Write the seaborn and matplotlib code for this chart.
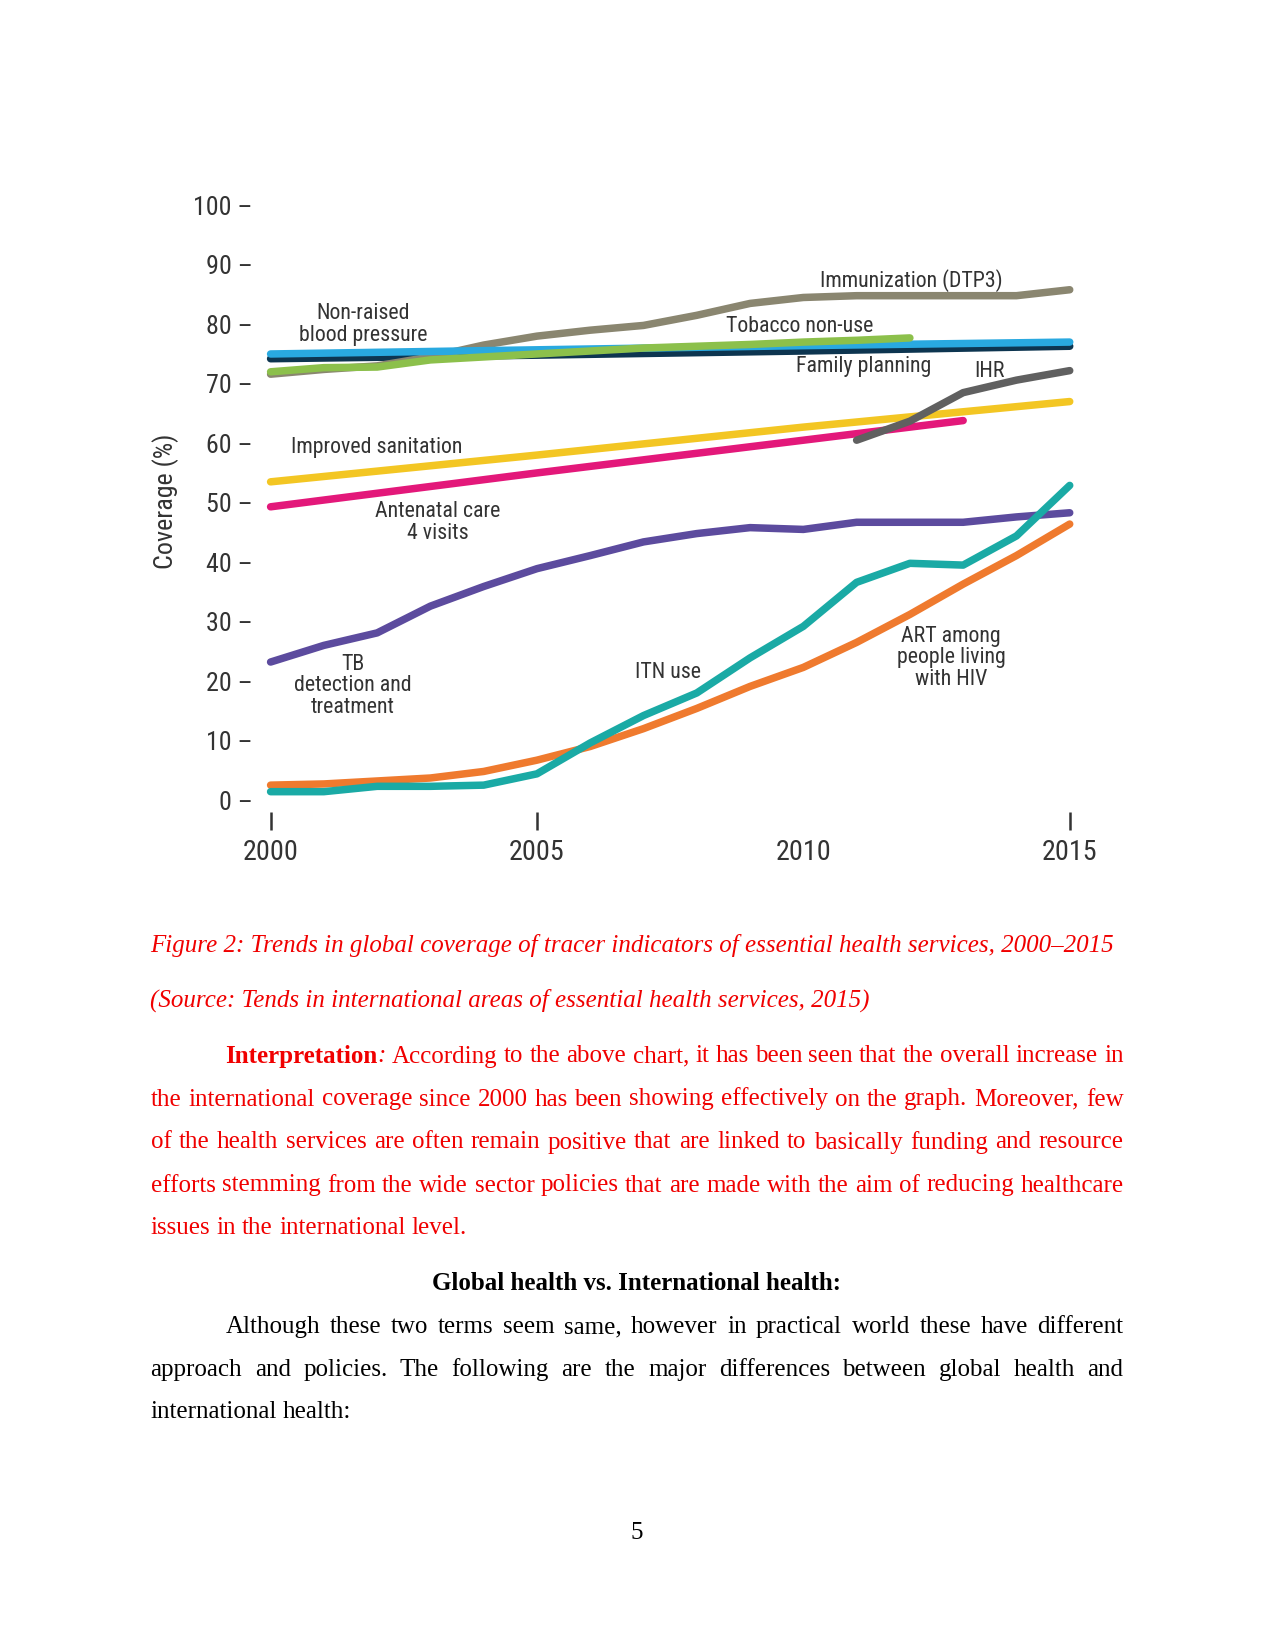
import matplotlib
matplotlib.use("Agg")
import matplotlib.pyplot as plt
import matplotlib.font_manager as fm
import seaborn as sns
import pandas as pd

W, H, DPI = 1275, 1651, 150

# ── data ────────────────────────────────────────────────────
YEARS = list(range(2000, 2016))
YEARS_4 = [2000, 2005, 2010, 2015]

immunization = [71.6, 72.4, 73, 74.5, 76.5, 78, 79, 79.8, 81.5, 83.5, 84.5, 84.8, 84.8, 84.8, 84.8, 85.8]
tobacco_years = list(range(2000, 2013))
tobacco = [72, 72.7, 72.8, 74, 74.5, 75, 75.5, 76, 76.3, 76.6, 77, 77.3, 77.7]
blood_pressure = [75, 75.7, 76.4, 77]
family_planning = [74.2, 74.8, 75.5, 76.3]
ihr_years = [2011, 2012, 2013, 2014, 2015]
ihr = [60.5, 63.7, 68.5, 70.6, 72.2]
sanitation = [53.5, 58, 62.7, 67]
antenatal_years = [2000, 2005, 2010, 2013]
antenatal = [49.3, 55, 60.5, 63.8]
tb = [23.2, 26, 28.1, 32.6, 35.9, 38.9, 41.1, 43.4, 44.8, 45.8, 45.5, 46.7, 46.7, 46.7, 47.6, 48.3]
itn = [1.4, 1.4, 2.3, 2.3, 2.5, 4.4, 9.6, 14.2, 18, 23.9, 29.2, 36.6, 39.8, 39.5, 44.4, 52.9]
art = [2.5, 2.7, 3.2, 3.7, 4.8, 6.7, 9.0, 12, 15.4, 19.1, 22.3, 26.5, 31.2, 36.3, 41.1, 46.4]

SERIES = [
    ("Family planning", YEARS_4, family_planning, "#0D3550"),
    ("Immunization (DTP3)", YEARS, immunization, "#8A8670"),
    ("Non-raised blood pressure", YEARS_4, blood_pressure, "#29A9E0"),
    ("Tobacco non-use", tobacco_years, tobacco, "#8CC04B"),
    ("Improved sanitation", YEARS_4, sanitation, "#F3C623"),
    ("Antenatal care", antenatal_years, antenatal, "#E3187A"),
    ("IHR", ihr_years, ihr, "#606060"),
    ("TB", YEARS, tb, "#5C4B9E"),
    ("ART", YEARS, art, "#EF7A2E"),
    ("ITN use", YEARS, itn, "#1AAAA5"),
]

Y_TICKS = [0, 10, 20, 30, 40, 50, 60, 70, 80, 90, 100]
X_TICKS = [2000, 2005, 2010, 2015]
X_MARKS = [2000, 2005, 2015]

rows = []
for name, xs, ys, _ in SERIES:
    for x, y in zip(xs, ys):
        rows.append({"year": x, "value": y, "series": name})
df = pd.DataFrame(rows)
palette = {name: c for name, _, _, c in SERIES}
order = [s[0] for s in SERIES]

sns.set_theme(style="white")


def pick_condensed():
    fl = fm.fontManager.ttflist
    names = {f.name for f in fl}
    for want in ["Liberation Sans Narrow", "Roboto Condensed", "Open Sans Condensed",
                 "DejaVu Sans Condensed"]:
        if want in names:
            return {"family": want}
    for f in fl:
        if "Narrow" in f.name or "Condensed" in f.name:
            return {"family": f.name}
    for fam in ["DejaVu Sans", "Roboto", "Open Sans", "Noto Sans"]:
        for f in fl:
            if f.name == fam and f.stretch in ("condensed", "semi-condensed", 300):
                return {"family": fam, "stretch": "condensed"}
    return {"family": "Roboto"}


COND = pick_condensed()
SERIF = "Liberation Serif"
plt.rcParams["font.family"] = [COND["family"], "DejaVu Sans"]
INK = "#333333"
RED = "#F00000"

fig = plt.figure(figsize=(W / DPI, H / DPI), dpi=DPI)
fig.patch.set_facecolor("white")


def px(x, y):
    return x / W, 1 - y / H


# axes placed so that 2000..2015 / 0..100 land where the reference has them
x0p, x1p = 270.6 - 0.5 * 53.3, 1069.7 + 0.5 * 53.3
y0p, y1p = 800 + 2 * 5.95, 205.3 - 2 * 5.95
ax = fig.add_axes([x0p / W, 1 - y0p / H, (x1p - x0p) / W, (y0p - y1p) / H])
ax.set_facecolor("white")

sns.lineplot(data=df, x="year", y="value", hue="series", hue_order=order,
             palette=palette, estimator=None, sort=False, linewidth=3.6,
             solid_capstyle="round", legend=False, ax=ax)

ax.set_xlim(1999.5, 2015.5)
ax.set_ylim(-2, 102)
for s in ax.spines.values():
    s.set_visible(False)
ax.set_xlabel("")
ax.set_ylabel("")

ax.set_yticks(Y_TICKS)
ax.set_yticklabels([f"{v} –" for v in Y_TICKS], fontsize=12.5, color=INK, **COND)
ax.tick_params(axis="y", length=0, pad=-4)

ax.xaxis.remove_overlapping_locs = False
ax.set_xticks(X_TICKS)
ax.set_xticklabels([str(v) for v in X_TICKS], fontsize=13.5, color=INK, **COND)
ax.set_xticks(X_MARKS, minor=True)
ax.tick_params(axis="x", which="major", length=0, pad=13, bottom=True)
ax.tick_params(axis="x", which="minor", length=8.5, width=1.2, color=INK,
               direction="out", bottom=True, labelbottom=False)

# series labels
LABELS = [
    ("Non-raised\nblood pressure", 2001.73, 80.0),
    ("Immunization (DTP3)", 2012.03, 87.4),
    ("Tobacco non-use", 2009.93, 79.7),
    ("Family planning", 2011.13, 72.9),
    ("IHR", 2013.5, 72.1),
    ("Improved sanitation", 2002.0, 59.2),
    ("Antenatal care\n4 visits", 2003.14, 46.6),
    ("TB\ndetection and\ntreatment", 2001.54, 19.2),
    ("ITN use", 2007.46, 21.5),
    ("ART among\npeople living\nwith HIV", 2012.77, 23.9),
]
for txt, lx, ly in LABELS:
    ax.text(lx, ly, txt, ha="center", va="center", fontsize=10.5, color=INK,
            linespacing=1.05, **COND)

fig.text(*px(166, 501), "Coverage (%)", rotation=90, ha="center", va="center",
         fontsize=12.5, color=INK, **COND)

# ── document text below the figure ──────────────────────────
renderer = fig.canvas.get_renderer()
LEFT, RIGHT, INDENT = 150.5, 1123.5, 225.3
SIZE = 12


def width_of(txt, **st):
    t = fig.text(0, 0, txt, fontsize=SIZE, family=SERIF, **st)
    w = t.get_window_extent(renderer).width
    t.remove()
    return w


def draw_words(words, xa, xb, y, justify, color):
    placed = []
    widths = []
    for word in words:
        runs = []
        total = 0
        for txt, st in word:
            t = fig.text(0, 0, txt, fontsize=SIZE, family=SERIF, color=color,
                         va="baseline", ha="left", **st)
            w = t.get_window_extent(renderer).width
            runs.append((t, w))
            total += w
        placed.append(runs)
        widths.append(total)
    if justify and len(words) > 1:
        gap = (xb - xa - sum(widths)) / (len(words) - 1)
    else:
        gap = width_of("a a") - width_of("aa")
    x = xa
    for runs, w in zip(placed, widths):
        xx = x
        for t, rw in runs:
            t.set_position(px(xx, y))
            xx += rw
        x += w + gap


def plain(line):
    return [[(w, {})] for w in line.split(" ")]


fig.text(*px(LEFT, 951.5),
         "Figure 2: Trends in global coverage of tracer indicators of essential health services, 2000–2015",
         fontsize=SIZE, family=SERIF, style="italic", color=RED, va="baseline")
fig.text(*px(LEFT, 1006.5),
         "(Source: Tends in international areas of essential health services, 2015)",
         fontsize=SIZE, family=SERIF, style="italic", color=RED, va="baseline")

first = [[("Interpretation", {"weight": "bold"}), (":", {"style": "italic"})]] + \
    plain("According to the above chart, it has been seen that the overall increase in")
draw_words(first, INDENT, RIGHT, 1062.5, True, RED)
para1 = [
    "the international coverage since 2000 has been showing effectively on the graph. Moreover, few",
    "of the health services are often remain positive that are linked to basically funding and resource",
    "efforts stemming from the wide sector policies that are made with the aim of reducing healthcare",
]
for i, line in enumerate(para1):
    draw_words(plain(line), LEFT, RIGHT, 1105.5 + 43 * i, True, RED)
draw_words(plain("issues in the international level."), LEFT, RIGHT, 1234.5, False, RED)

fig.text(*px(637, 1290), "Global health vs. International health:", fontsize=SIZE,
         family=SERIF, weight="bold", color="black", ha="center", va="baseline")

draw_words(plain("Although these two terms seem same, however in practical world these have different"),
           INDENT, RIGHT, 1333, True, "black")
draw_words(plain("approach and policies. The following are the major differences between global health and"),
           LEFT, RIGHT, 1376, True, "black")
draw_words(plain("international health:"), LEFT, RIGHT, 1418.5, False, "black")

fig.text(*px(637, 1539), "5", fontsize=SIZE, family=SERIF, color="black",
         ha="center", va="baseline")

fig.savefig("out.png", dpi=DPI, facecolor="white")
print("font:", COND)
